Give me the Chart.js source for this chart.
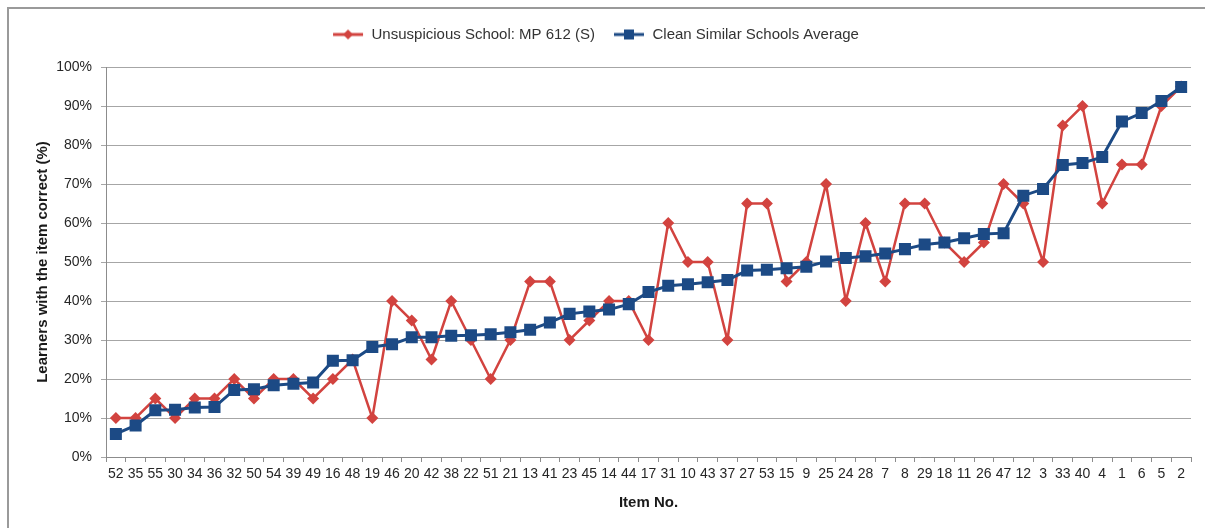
<!DOCTYPE html>
<html>
<head>
<meta charset="utf-8">
<script src="https://cdn.jsdelivr.net/npm/chart.js@4"></script>
<style>
  html, body { margin: 0; padding: 0; background: #fff; }
  #frame { position: absolute; left: 7px; top: 7px; width: 1210px; height: 540px; border: 2px solid #9a9a9a; }
  #wrap { position: absolute; left: 0; top: 0; width: 1205px; height: 528px; }
</style>
</head>
<body>
<div id="frame"></div>
<div id="wrap"><canvas id="chart"></canvas></div>
<script>
'use strict';
//data
let itemNumbers = ['52','35','55','30','34','36','32','50','54','39','49','16','48','19','46','20','42','38','22','51',
  '21','13','41','23','45','14','44','17','31','10','43','37','27','53','15','9','25','24','28','7',
  '8','29','18','11','26','47','12','3','33','40','4','1','6','5','2'];
let schoolValues = [10,10,15,10,15,15,20,15,20,20,15,20,25,10,40,35,25,40,30,20,
  30,45,45,30,35,40,40,30,60,50,50,30,65,65,45,50,70,40,60,45,
  65,65,55,50,55,70,65,50,85,90,65,75,75,90,95];
let averageValues = [5.9,8.1,12,12.1,12.7,12.8,17.2,17.4,18.4,18.8,19.1,24.7,24.8,28.2,28.9,30.7,30.7,31.1,31.2,31.5,
  32,32.6,34.5,36.7,37.3,37.8,39.2,42.3,43.9,44.3,44.8,45.4,47.8,48,48.4,48.8,50.1,51,51.5,52.2,
  53.3,54.5,55,56.1,57.2,57.4,67,68.7,74.9,75.4,76.9,86,88.2,91.3,94.9];
let yTicks = [0,10,20,30,40,50,60,70,80,90,100];

let redColor = '#d2433f';
let blueColor = '#1c4a85';
let fontFamily = 'Liberation Sans, Arial, sans-serif';

//small legend pictures: line with the marker in the middle
function makeLegendIcon(color, shape){
  let c = document.createElement('canvas');
  c.width = 32;
  c.height = 14;
  let g = c.getContext('2d');
  g.strokeStyle = color;
  g.lineWidth = 3;
  g.beginPath();
  g.moveTo(1, 7);
  g.lineTo(31, 7);
  g.stroke();
  g.fillStyle = color;
  g.beginPath();
  if (shape === 'diamond'){
    g.moveTo(16, 2); g.lineTo(21, 7); g.lineTo(16, 12); g.lineTo(11, 7);
  } else {
    g.rect(11, 2, 10, 10);
  }
  g.closePath();
  g.fill();
  return c;
}
let legendIcons = [makeLegendIcon(redColor, 'diamond'), makeLegendIcon(blueColor, 'square')];

//fix the legend box height so the plot top lands where it should
let legendHeightPlugin = {
  id: 'legendHeight',
  beforeInit(chart){
    if (chart.legend){
      let origFit = chart.legend.fit;
      chart.legend.fit = function(){
        origFit.bind(chart.legend)();
        this.height = 58;
      };
    }
  }
};

let ctx = document.getElementById('chart').getContext('2d');
new Chart(ctx, {
  type: 'line',
  data: {
    labels: itemNumbers,
    datasets: [{
      label: 'Unsuspicious School: MP 612 (S)',
      data: schoolValues,
      borderColor: redColor,
      backgroundColor: redColor,
      borderWidth: 2.5,
      pointStyle: 'rectRot',
      pointRadius: 6,
      pointHoverRadius: 6,
      pointBorderWidth: 0,
      tension: 0,
      order: 2
    },{
      label: 'Clean Similar Schools Average',
      data: averageValues,
      borderColor: blueColor,
      backgroundColor: blueColor,
      borderWidth: 3,
      pointStyle: 'rect',
      pointRadius: 8.5,
      pointHoverRadius: 8.5,
      pointBorderWidth: 0,
      tension: 0,
      order: 1
    }]
  },
  options: {
    responsive: true,
    maintainAspectRatio: false,
    animation: false,
    layout: {
      padding: { top: 9, left: 0, right: 14, bottom: 0 }
    },
    plugins: {
      legend: {
        position: 'top',
        labels: {
          usePointStyle: true,
          pointStyleWidth: 32,
          boxHeight: 14,
          padding: 18,
          color: '#333333',
          font: { family: fontFamily, size: 15 },
          generateLabels(chart){
            return chart.data.datasets.map(function(ds, i){
              return {
                text: ds.label,
                fillStyle: ds.borderColor,
                strokeStyle: ds.borderColor,
                lineWidth: 0,
                pointStyle: legendIcons[i],
                hidden: false,
                datasetIndex: i,
                fontColor: '#333333'
              };
            });
          }
        }
      },
      tooltip: { enabled: false }
    },
    scales: {
      x: {
        type: 'category',
        offset: true,
        afterFit(scale){ scale.height = 71; },
        grid: {
          offset: true,
          drawOnChartArea: false,
          drawTicks: true,
          tickLength: 5,
          color: '#8c8c8c'
        },
        border: { color: '#8c8c8c', width: 1 },
        ticks: {
          autoSkip: false,
          maxRotation: 0,
          minRotation: 0,
          padding: 4,
          color: '#262626',
          font: { family: fontFamily, size: 14 }
        },
        title: {
          display: true,
          text: 'Item No.',
          color: '#1a1a1a',
          padding: { top: 0, bottom: 16 },
          font: { family: fontFamily, size: 15, weight: 'bold' }
        }
      },
      y: {
        min: 0,
        max: 100,
        afterFit(scale){ scale.width = 106; },
        afterBuildTicks(scale){
          scale.ticks = yTicks.map(function(v){ return { value: v }; });
        },
        grid: {
          color: '#a6a6a6',
          lineWidth: 1,
          drawTicks: true,
          tickLength: 5
        },
        border: { color: '#8c8c8c', width: 1 },
        ticks: {
          padding: 9,
          color: '#262626',
          font: { family: fontFamily, size: 14 },
          callback(value){ return value + '%'; }
        },
        title: {
          display: true,
          text: 'Learners with the item correct (%)',
          color: '#1a1a1a',
          padding: { top: 34, bottom: 0 },
          font: { family: fontFamily, size: 15, weight: 'bold' }
        }
      }
    }
  },
  plugins: [legendHeightPlugin]
});
</script>
</body>
</html>
